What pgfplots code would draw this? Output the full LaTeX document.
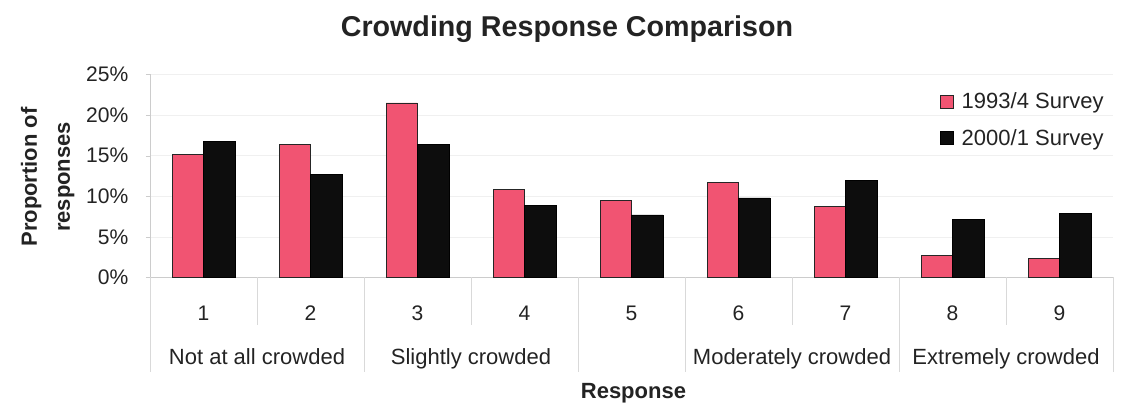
\documentclass[border=0pt]{standalone}
\usepackage{fontspec}
\setmainfont{Liberation Sans}
\usepackage{pgfplots}
\pgfplotsset{compat=1.18}
\definecolor{rose}{RGB}{241,84,114}
\definecolor{txt}{RGB}{35,35,35}
\newcommand{\fs}{\fontsize{15.8pt}{19pt}\selectfont}
\newcommand{\fl}{\fontsize{16.5pt}{20pt}\selectfont}
\newcommand{\ft}{\fontsize{21.5pt}{26pt}\selectfont}
\begin{document}
\begin{tikzpicture}
\useasboundingbox (-112.5pt,-99.375pt) rectangle (729pt,208.125pt);
\begin{axis}[
  at={(0pt,0pt)}, anchor=south west,
  scale only axis, width=722.25pt, height=152.25pt,
  xmin=0.5, xmax=9.5, ymin=0, ymax=25,
  ybar=0pt, bar width=23.6pt,
  clip=false,
  axis x line*=bottom, axis y line*=left,
  axis line style={draw=gray!40,-},
  xtick={1,...,9}, xticklabels={1,2,3,4,5,6,7,8,9},
  x tick style={draw=none},
  ytick={0,5,...,25},
  yticklabel={\pgfmathprintnumber{\tick}\%},
  y tick style={draw=gray!40},
  tick align=outside, major tick length=3pt,
  ymajorgrids, grid style={draw=gray!12},
  xticklabel style={anchor=base, font=\fs, text=txt, yshift=-29.6pt},
  yticklabel style={font=\fs, text=txt, anchor=east, inner sep=0pt, xshift=-13pt},
  /pgf/number format/assume math mode=true,
  legend style={at={(0.82,0.925)}, anchor=north west, draw=none, fill=none,
    font=\fl, text=txt, row sep=10pt, inner sep=0pt,
    nodes={inner xsep=6pt}},
  legend cell align=left,
]
\addplot[fill=rose, draw=black!85, line width=0.6pt,
  legend image code/.code={\draw[fill=rose,draw=black!85,line width=0.6pt] (0pt,-4.9pt) rectangle (9.75pt,4.9pt);}]
  coordinates {(1,15.1) (2,16.4) (3,21.5) (4,10.8) (5,9.5) (6,11.7) (7,8.8) (8,2.7) (9,2.3)};
\addplot[fill=black!95, draw=black, line width=0.6pt,
  legend image code/.code={\draw[fill=black!95,draw=black,line width=0.6pt] (0pt,-4.9pt) rectangle (9.75pt,4.9pt);}]
  coordinates {(1,16.7) (2,12.7) (3,16.4) (4,8.9) (5,7.7) (6,9.8) (7,11.9) (8,7.2) (9,7.9)};
\legend{1993/4 Survey, 2000/1 Survey}
% category separators
\pgfplotsinvokeforeach{1.5,3.5,6.5,8.5}{
  \draw[gray!30] (axis cs:#1,0) -- ++(0pt,-35.6pt);
}
\pgfplotsinvokeforeach{0.5,2.5,4.5,5.5,7.5,9.5}{
  \draw[gray!30] (axis cs:#1,0) -- ++(0pt,-70.9pt);
}
\node[anchor=base, font=\fl, text=txt] at ([yshift=-65.6pt]axis cs:1.5,0) {Not at all crowded};
\node[anchor=base, font=\fl, text=txt] at ([yshift=-65.6pt]axis cs:3.5,0) {Slightly crowded};
\node[anchor=base, font=\fl, text=txt] at ([yshift=-65.6pt]axis cs:6.5,0) {Moderately crowded};
\node[anchor=base, font=\fl, text=txt] at ([yshift=-65.6pt]axis cs:8.5,0) {Extremely crowded};
\end{axis}
\node[anchor=base, font=\ft\bfseries, text=txt] at (312.75pt,180.4pt) {Crowding Response Comparison};
\node[anchor=base, font=\fl\bfseries, text=txt] at (362.6pt,-90.4pt) {Response};
\node[anchor=base, rotate=90, font=\fl\bfseries, text=txt] at (-84.75pt,75.4pt) {Proportion of};
\node[anchor=base, rotate=90, font=\fl\bfseries, text=txt] at (-60pt,75.4pt) {responses};
\end{tikzpicture}
\end{document}
